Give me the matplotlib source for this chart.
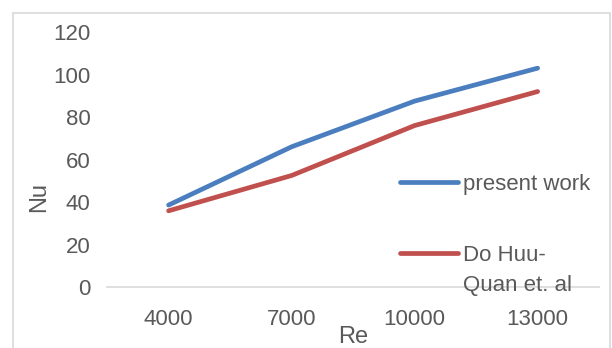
import matplotlib
matplotlib.use("Agg")
import matplotlib.pyplot as plt
from matplotlib.lines import Line2D
from matplotlib.patches import Rectangle

# Nusselt number vs Reynolds number
re_labels = ["4000", "7000", "10000", "13000"]
nu_present = [38.6, 66.0, 87.5, 103.0]
nu_do_huu_quan = [35.9, 52.5, 76.0, 92.0]
series_names = ["present work", "Do Huu-\nQuan et. al"]
y_ticks = [0, 20, 40, 60, 80, 100, 120]

plt.rcParams["font.family"] = ["Liberation Sans", "DejaVu Sans"]
TXT = "#595959"
BLUE, RED = "#4a7ebf", "#c0504d"
FS = 16

fig = plt.figure(figsize=(6.12, 3.48), dpi=100)
ax = fig.add_axes([0.175, 0.175, 0.804, 0.733])

x = range(len(re_labels))
ax.plot(x, nu_present, color=BLUE, lw=3.4, solid_capstyle="round")
ax.plot(x, nu_do_huu_quan, color=RED, lw=3.4, solid_capstyle="round")

ax.set_xlim(-0.5, len(re_labels) - 0.5)
ax.set_ylim(0, 120)
ax.set_xticks(list(x))
ax.set_xticklabels(re_labels)
ax.set_yticks(y_ticks)
ax.tick_params(length=0, labelsize=FS, labelcolor=TXT, pad=12)
ax.tick_params(axis="x", pad=16)

for side in ("top", "right", "left"):
    ax.spines[side].set_visible(False)
ax.spines["bottom"].set_color("#d9d9d9")
ax.spines["bottom"].set_linewidth(1.2)

ax.set_ylabel("Nu", fontsize=FS + 1, color=TXT)
ax.yaxis.set_label_coords(-0.116, 0.353)
ax.set_xlabel("Re", fontsize=FS + 1, color=TXT, labelpad=-3)

# legend drawn by hand so the handle sits on the first line of the label
legend_y = [0.412, 0.133]
for name, col, ly in zip(series_names, [BLUE, RED], legend_y):
    ax.add_line(Line2D([0.5955, 0.7134], [ly, ly], transform=ax.transAxes,
                       color=col, lw=3.4, solid_capstyle="round", clip_on=False))
    for k, line in enumerate(name.split("\n")):
        ax.text(0.7236, ly - k * 30 / 255, line, transform=ax.transAxes,
                fontsize=FS, color=TXT, ha="left", va="center_baseline")

# chart area border
fig.patches.append(Rectangle((13 / 612, -0.1), (610 - 13) / 612, 1.1 - 13 / 348,
                             transform=fig.transFigure, fill=False,
                             edgecolor="#d9d9d9", lw=1.2))

fig.savefig("out.png", dpi=100)
